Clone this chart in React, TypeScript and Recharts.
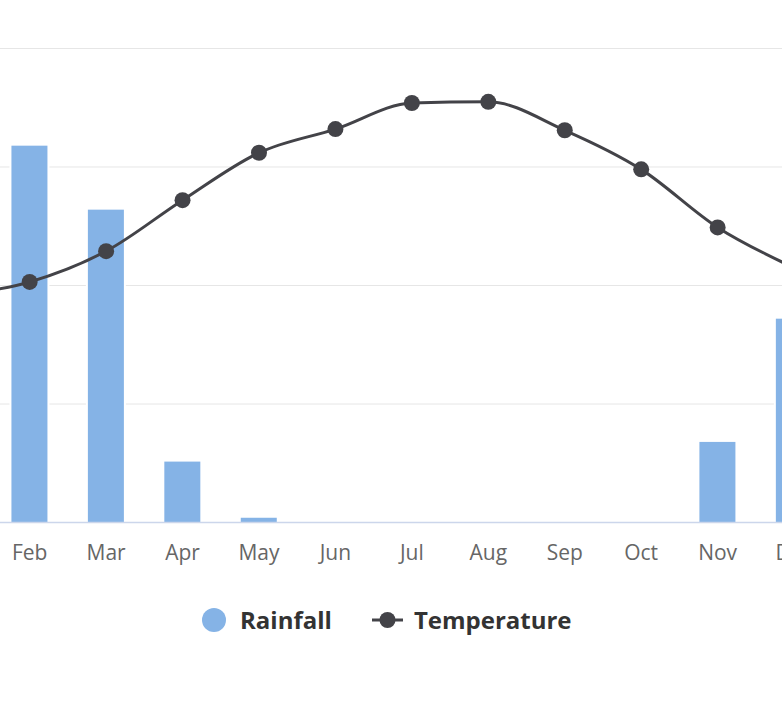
import React from 'react';
import { ComposedChart, Bar, Line, XAxis, YAxis, CartesianGrid } from 'recharts';

/* Data (Jan and Dec sit partly outside the frame) */
const MONTHS = ['Jan', 'Feb', 'Mar', 'Apr', 'May', 'Jun', 'Jul', 'Aug', 'Sep', 'Oct', 'Nov', 'Dec'];
const RAINFALL = [165, 159, 132, 25.7, 2, 0, 0, 0, 0, 0, 34, 86];
const TEMPERATURE = [19.1, 20.3, 22.9, 27.2, 31.2, 33.2, 35.4, 35.5, 33.1, 29.8, 24.9, 21.5];
const RAIN_TICKS = [0, 50, 100, 150, 200];
const TEMP_TICKS = [0, 10, 20, 30, 40];

const BAR_COLOR = '#85b3e6';
const LINE_COLOR = '#434348';
const GRID_COLOR = '#e6e6e6';
const AXIS_COLOR = '#ccd6eb';
const FONT = '"Open Sans", sans-serif';

const data = MONTHS.map((month, i) => ({
  month,
  rainfall: RAINFALL[i],
  temperature: TEMPERATURE[i],
}));

// bar with a white border, like the reference (border not drawn under the baseline)
function BorderedBar(props: any) {
  const { x, y, width, height, fill } = props;
  if (!height || height <= 0) return null;
  return (
    <g>
      <rect x={x - 2} y={y - 2} width={width + 4} height={height + 2} fill="#fff" />
      <rect x={x} y={y} width={width} height={height} fill={fill} />
    </g>
  );
}

function LegendRow() {
  const text: React.CSSProperties = {
    fontFamily: FONT,
    fontWeight: 700,
    fontSize: 24,
    color: '#333333',
    lineHeight: '30px',
  };
  return (
    <div
      style={{
        position: 'absolute',
        left: 202,
        top: 604.5,
        height: 30,
        display: 'flex',
        alignItems: 'center',
      }}
    >
      <svg width={24} height={24} style={{ marginRight: 14 }}>
        <circle cx={12} cy={12} r={12} fill={BAR_COLOR} />
      </svg>
      <span style={text}>Rainfall</span>
      <svg width={31} height={18} style={{ marginLeft: 40, marginRight: 11 }}>
        <line x1={0} y1={9} x2={31} y2={9} stroke={LINE_COLOR} strokeWidth={3} />
        <circle cx={15.5} cy={9} r={8} fill={LINE_COLOR} />
      </svg>
      <span style={text}>Temperature</span>
    </div>
  );
}

export default function App() {
  return (
    <div
      style={{
        position: 'absolute',
        left: 0,
        top: 0,
        width: 782,
        height: 702,
        overflow: 'hidden',
        background: '#fff',
      }}
    >
      <div style={{ position: 'absolute', left: -84.7, top: 0 }}>
        <ComposedChart
          width={917.3}
          height={702}
          data={data}
          margin={{ top: 48.5, right: 0, bottom: 0, left: 0 }}
        >
          <CartesianGrid yAxisId="rain" vertical={false} stroke={GRID_COLOR} />
          <YAxis yAxisId="rain" hide domain={[0, 200]} ticks={RAIN_TICKS} />
          <YAxis yAxisId="temp" hide orientation="right" domain={[0, 40]} ticks={TEMP_TICKS} />
          <Bar
            yAxisId="rain"
            dataKey="rainfall"
            name="Rainfall"
            fill={BAR_COLOR}
            barSize={36}
            shape={BorderedBar}
            isAnimationActive={false}
          />
          <Line
            yAxisId="temp"
            type="monotone"
            dataKey="temperature"
            name="Temperature"
            stroke={LINE_COLOR}
            strokeWidth={3}
            dot={{ r: 8, fill: LINE_COLOR, stroke: 'none' }}
            activeDot={false}
            isAnimationActive={false}
          />
          <XAxis
            dataKey="month"
            height={179.5}
            axisLine={{ stroke: AXIS_COLOR, strokeWidth: 1.5 }}
            tickLine={false}
            tickSize={6}
            tickMargin={17}
            tick={{ fill: '#666666', fontSize: 21, fontFamily: FONT }}
            interval={0}
          />
        </ComposedChart>
      </div>
      <LegendRow />
    </div>
  );
}
